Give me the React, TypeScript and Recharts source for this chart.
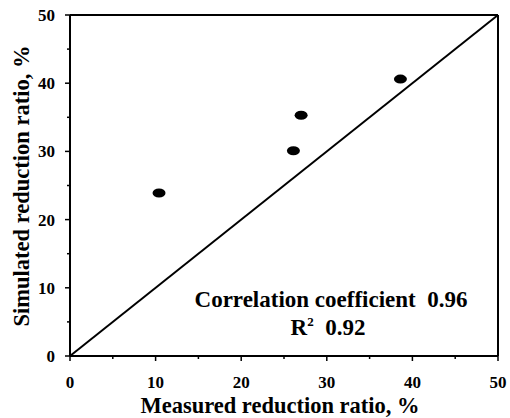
import { ScatterChart, Scatter, XAxis, YAxis, ReferenceLine, Customized } from "recharts";

const measured = [10.4, 26.1, 27.0, 38.6];
const simulated = [23.9, 30.1, 35.3, 40.6];
const axisTicks = [0, 5, 10, 15, 20, 25, 30, 35, 40, 45, 50];
const diagonal = [
  { x: 0, y: 0 },
  { x: 50, y: 50 },
];
const correlationText = "Correlation coefficient  0.96";
const r2Value = "0.92";

const data = measured.map((m, i) => ({ x: m, y: simulated[i] }));

const FONT = "'Liberation Serif', 'Times New Roman', serif";

function XTick(props: any) {
  const { x, y, payload } = props;
  const major = payload.value % 10 === 0;
  return (
    <g>
      <line x1={x} y1={y} x2={x} y2={y + (major ? 5 : 3)} stroke="#000" strokeWidth={1.5} />
      {major && (
        <text x={x} y={y + 32} textAnchor="middle" fontFamily={FONT} fontWeight="bold" fontSize={17} fill="#000">
          {payload.value}
        </text>
      )}
    </g>
  );
}

function YTick(props: any) {
  const { x, y, payload } = props;
  const major = payload.value % 10 === 0;
  return (
    <g>
      <line x1={x - (major ? 5 : 3)} y1={y} x2={x} y2={y} stroke="#000" strokeWidth={1.5} />
      {major && (
        <text x={x - 15} y={y + 6} textAnchor="end" fontFamily={FONT} fontWeight="bold" fontSize={17} fill="#000">
          {payload.value}
        </text>
      )}
    </g>
  );
}

function Dot(props: any) {
  const { cx, cy } = props;
  return <ellipse cx={cx} cy={cy} rx={6.5} ry={4.5} fill="#000" />;
}

function Titles() {
  const common = { fontFamily: FONT, fontWeight: "bold", fill: "#000" } as const;
  return (
    <g>
      <text {...common} x={280} y={413} textAnchor="middle" fontSize={22.5}>
        Measured reduction ratio, %
      </text>
      <text {...common} x={29} y={186} textAnchor="middle" fontSize={22.5} transform="rotate(-90 29 186)">
        Simulated reduction ratio, %
      </text>
      <text {...common} x={331} y={307} textAnchor="middle" fontSize={23} style={{ whiteSpace: "pre" }}>
        {correlationText}
      </text>
      <text {...common} x={328} y={335} textAnchor="middle" fontSize={23} style={{ whiteSpace: "pre" }}>
        R<tspan fontSize={13} dy={-9}>2</tspan>
        <tspan dy={9}>{"  " + r2Value}</tspan>
      </text>
    </g>
  );
}

export default function App() {
  return (
    <div style={{ position: "absolute", left: 0, top: 0, background: "#fff" }}>
      <ScatterChart width={510} height={418} margin={{ top: 15, right: 12, bottom: 0, left: 0 }}>
        <XAxis
          type="number"
          dataKey="x"
          domain={[0, 50]}
          ticks={axisTicks}
          interval={0}
          height={62}
          tickSize={0}
          tickMargin={0}
          tickLine={false}
          tick={<XTick />}
          axisLine={{ stroke: "#000", strokeWidth: 2 }}
        />
        <YAxis
          type="number"
          dataKey="y"
          domain={[0, 50]}
          ticks={axisTicks}
          interval={0}
          width={70}
          tickSize={0}
          tickMargin={0}
          tickLine={false}
          tick={<YTick />}
          axisLine={{ stroke: "#000", strokeWidth: 2 }}
        />
        <ReferenceLine y={50} stroke="#000" strokeWidth={2} />
        <ReferenceLine x={50} stroke="#000" strokeWidth={2} />
        <ReferenceLine segment={diagonal} stroke="#000" strokeWidth={2} />
        <Scatter data={data} shape={<Dot />} isAnimationActive={false} />
        <Customized component={Titles} />
      </ScatterChart>
    </div>
  );
}
